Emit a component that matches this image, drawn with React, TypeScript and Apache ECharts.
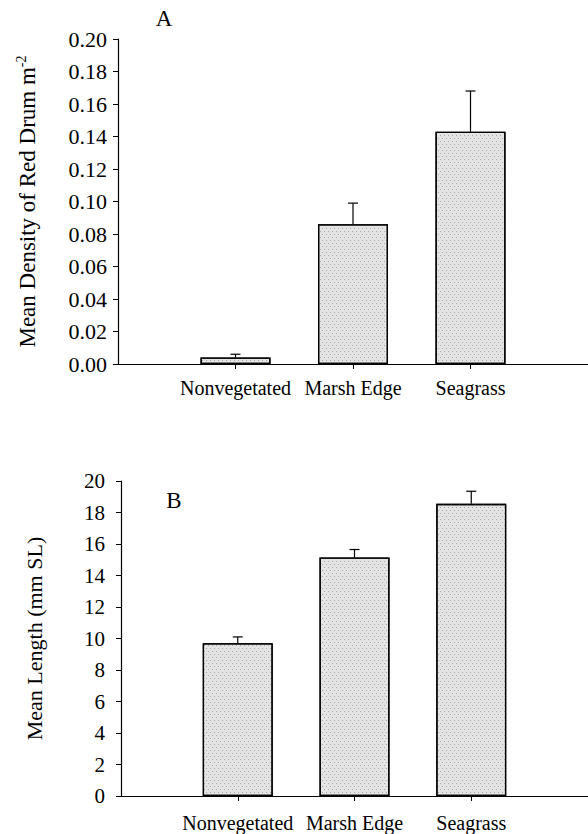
import React, { useEffect, useRef } from "react";
import * as echarts from "echarts";

const categories = ["Nonvegetated", "Marsh Edge", "Seagrass"];
const categoryPositions = [1, 2, 3];
const densityMean = [0.004, 0.086, 0.143];
const densityErr = [0.002, 0.013, 0.025];
const lengthMean = [9.7, 15.15, 18.55];
const lengthErr = [0.4, 0.5, 0.8];
const densityTicks = { min: 0, max: 0.2, interval: 0.02 };
const lengthTicks = { min: 0, max: 20, interval: 2 };

const FONT = "Liberation Serif";
const BAR_FILL = "#e4e4e4";

function errorSeries(xAxisIndex: number, means: number[], errs: number[]) {
  return {
    type: "custom",
    xAxisIndex,
    yAxisIndex: xAxisIndex,
    z: 5,
    data: means.map((m, i) => [categoryPositions[i], m, m + errs[i]]),
    renderItem: (params: any, api: any) => {
      const x = api.value(0);
      const base = api.coord([x, api.value(1)]);
      const top = api.coord([x, api.value(2)]);
      const style = { stroke: "#000", lineWidth: 1.2 };
      return {
        type: "group",
        children: [
          { type: "line", shape: { x1: base[0], y1: base[1], x2: top[0], y2: top[1] }, style },
          { type: "line", shape: { x1: top[0] - 5, y1: top[1], x2: top[0] + 5, y2: top[1] }, style },
        ],
      };
    },
  };
}

function barSeries(idx: number, means: number[]) {
  return {
    type: "bar",
    xAxisIndex: idx,
    yAxisIndex: idx,
    barWidth: 70,
    z: 3,
    data: means.map((m, i) => [categoryPositions[i], m]),
    itemStyle: {
      color: BAR_FILL,
      borderColor: "#000",
      borderWidth: 1.3,
      decal: {
        symbol: "rect",
        symbolSize: 1,
        color: "rgba(110,110,110,0.5)",
        dashArrayX: [[1, 3], [0, 2, 1, 1]],
        dashArrayY: [1, 2],
        rotation: 0,
      },
    },
  };
}

function xAxis(gridIndex: number, margin: number) {
  return {
    type: "value",
    gridIndex,
    min: 0,
    max: 4,
    interval: 1,
    splitLine: { show: false },
    axisLine: { show: true, lineStyle: { color: "#000", width: 1.2 } },
    axisTick: { show: true, customValues: categoryPositions, length: 5, lineStyle: { color: "#000" } },
    axisLabel: {
      customValues: categoryPositions,
      formatter: (v: number) => categories[categoryPositions.indexOf(Math.round(v))] ?? "",
      color: "#000",
      fontFamily: FONT,
      fontSize: 20,
      margin,
    },
  };
}

export default function App() {
  const ref = useRef<HTMLDivElement>(null);
  useEffect(() => {
    document.body.style.margin = "0";
    const chart = echarts.init(ref.current!, null, { renderer: "svg" });
    chart.setOption({
      animation: false,
      backgroundColor: "#fff",
      textStyle: { fontFamily: FONT },
      grid: [
        { left: 118, top: 39, width: 470, height: 325 },
        { left: 121, top: 481, width: 467, height: 315 },
      ],
      xAxis: [xAxis(0, 14), xAxis(1, 17)],
      yAxis: [
        {
          type: "value",
          gridIndex: 0,
          ...densityTicks,
          splitLine: { show: false },
          axisLine: { show: true, lineStyle: { color: "#000", width: 1.2 } },
          axisTick: { show: true, length: 5, lineStyle: { color: "#000" } },
          axisLabel: { color: "#000", fontFamily: FONT, fontSize: 22, margin: 11, formatter: (v: number) => v.toFixed(2) },
          name: "{t|Mean Density of Red Drum m}{s|-2}",
          nameLocation: "middle",
          nameGap: 78,
          nameTextStyle: {
            rich: {
              t: { color: "#000", fontFamily: FONT, fontSize: 23 },
              s: { color: "#000", fontFamily: FONT, fontSize: 14, padding: [0, 0, 12, 0] },
            },
          },
        },
        {
          type: "value",
          gridIndex: 1,
          ...lengthTicks,
          splitLine: { show: false },
          axisLine: { show: true, lineStyle: { color: "#000", width: 1.2 } },
          axisTick: { show: true, length: 5, lineStyle: { color: "#000" } },
          axisLabel: { color: "#000", fontFamily: FONT, fontSize: 21, margin: 16 },
          name: "Mean Length (mm SL)",
          nameLocation: "middle",
          nameGap: 76,
          nameTextStyle: { color: "#000", fontFamily: FONT, fontSize: 22 },
        },
      ],
      graphic: [
        { type: "text", x: 164, y: 18, style: { text: "A", fontFamily: FONT, fontSize: 23, fill: "#000", align: "center", verticalAlign: "middle" } },
        { type: "text", x: 174, y: 500, style: { text: "B", fontFamily: FONT, fontSize: 23, fill: "#000", align: "center", verticalAlign: "middle" } },
      ],
      series: [
        barSeries(0, densityMean),
        errorSeries(0, densityMean, densityErr),
        barSeries(1, lengthMean),
        errorSeries(1, lengthMean, lengthErr),
      ],
    });
    return () => chart.dispose();
  }, []);
  return <div ref={ref} style={{ width: 588, height: 834 }} />;
}
